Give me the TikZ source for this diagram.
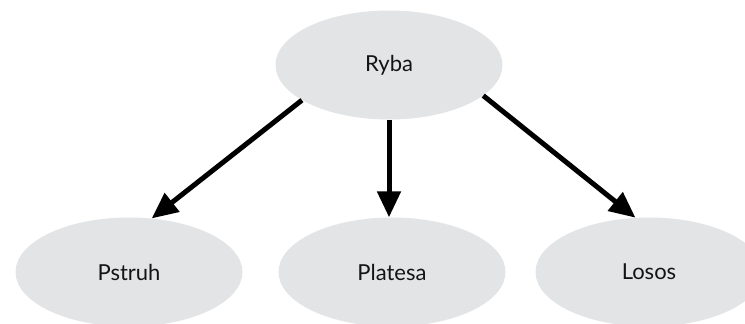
\documentclass[tikz,border=0pt]{standalone}
\usepackage{fontspec}
\setmainfont{Lato}
\usetikzlibrary{arrows.meta,shapes.geometric}
\definecolor{ellfill}{RGB}{227,228,230}
\definecolor{txt}{RGB}{20,20,20}
\tikzset{
  fishnode/.style={ellipse, fill=ellfill, draw=none, minimum width=227pt, minimum height=109pt, inner sep=0pt, text=txt, font=\fontsize{22}{26}\selectfont},
  fisharrow/.style={line width=5pt, -{Triangle[length=26pt,width=23pt]}, black}
}
\begin{document}
\begin{tikzpicture}[x=1pt,y=1pt]
\useasboundingbox (0,0) rectangle (745,324);
\clip (0,0) rectangle (745,324);
\node[fishnode] (ryba) at (389,259) {Ryba};
\node[fishnode] (pstruh) at (129,52) {Pstruh};
\node[fishnode] (platesa) at (392,52) {Platesa};
\node[fishnode] (losos) at (649,52) {Losos};
\draw[fisharrow] (ryba.202.7) -- (pstruh.67.8);
\draw[fisharrow] (ryba.south) -- (ryba.south |- platesa.north);
\draw[fisharrow] (ryba.342.6) -- (losos.104.5);
\end{tikzpicture}
\end{document}
